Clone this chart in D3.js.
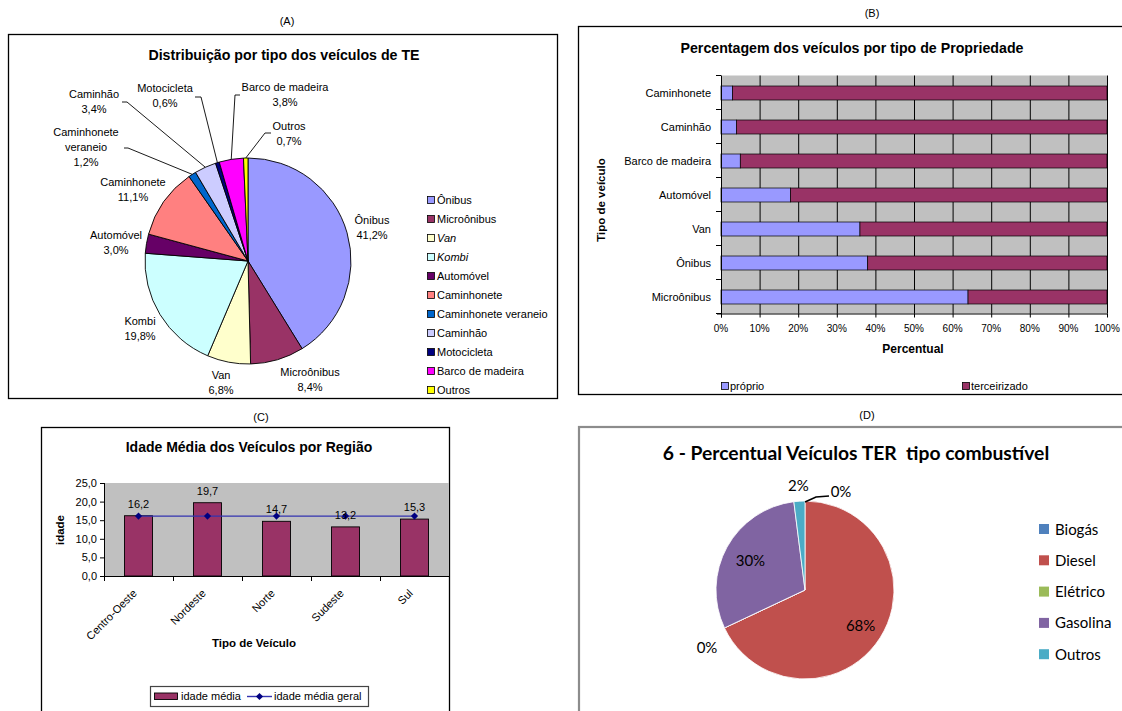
<!DOCTYPE html>
<html><head><meta charset="utf-8">
<script src="https://cdn.jsdelivr.net/npm/d3@7"></script>
<style>
html,body{margin:0;padding:0;background:#fff;}
svg{display:block;}
text{font-family:"Liberation Sans",Arial,sans-serif;fill:#000;}
.cal{font-family:Lato,"Open Sans",sans-serif;}
</style></head><body>
<svg id="chart" width="1122" height="711"></svg>
<script>
// ---------- DATA ----------
// (A) distribution by vehicle type
const vehicleTypes = ["Ônibus","Microônibus","Van","Kombi","Automóvel","Caminhonete","Caminhonete veraneio","Caminhão","Motocicleta","Barco de madeira","Outros"];
const vehicleShares = [41.2, 8.4, 6.8, 19.8, 3.0, 11.1, 1.2, 3.4, 0.6, 3.8, 0.7];
// (B) ownership
const ownershipCategories = ["Caminhonete","Caminhão","Barco de madeira","Automóvel","Van","Ônibus","Microônibus"];
const ownSeries = ["próprio","terceirizado"];
const ownPct = [3, 4, 5, 18, 36, 38, 64];
const outsourcedPct = [97, 96, 95, 82, 64, 62, 36];
// (C) average age per region
const regions = ["Centro-Oeste","Nordeste","Norte","Sudeste","Sul"];
const ageByRegion = [16.2, 19.7, 14.7, 13.2, 15.3];
const overallAge = [16.1, 16.1, 16.1, 16.1, 16.1];
const ageSeries = ["idade média","idade média geral"];
// (D) fuel type
const fuelTypes = ["Biogás","Diesel","Elétrico","Gasolina","Outros"];
const fuelShares = [0, 68, 0, 30, 2];

// ---------- STYLE / LAYOUT ----------
const colorsA = ["#9999FF","#993366","#FFFFCC","#CCFFFF","#660066","#FF8080","#0066CC","#CCCCFF","#000080","#FF00FF","#FFFF00"];
const italicLegendA = ["Van","Kombi"];
const labelPosA = { // first-line centre offsets from pie centre
  "Ônibus":[124,-41], "Microônibus":[62,111], "Van":[-27,114], "Kombi":[-108,60],
  "Automóvel":[-132,-26], "Caminhonete":[-115,-79], "Caminhonete veraneio":[-162,-129],
  "Caminhão":[-154,-167], "Motocicleta":[-83,-173], "Barco de madeira":[37,-174], "Outros":[41,-135]
};
const leaderA = { // start offset and horizontal stub
  "Caminhão":[-126,-159,5], "Caminhonete veraneio":[-124,-113,4], "Motocicleta":[-53,-164,6],
  "Barco de madeira":[-8,-166,-5], "Outros":[23,-128,-6]
};
const colorsB = ["#9999FF","#993366"];
const colorsD = ["#4F81BD","#C0504D","#9BBB59","#8064A2","#4BACC6"];

const loc = d3.formatLocale({decimal:",", thousands:".", grouping:[3], currency:["R$",""]});
const f1 = loc.format(".1f");

const svg = d3.select("#chart");

// =============== (A) ===============
(function(){
  const g = svg.append("g");
  g.append("rect").attr("x",8.5).attr("y",34.5).attr("width",549).attr("height",364)
    .attr("fill","#fff").attr("stroke","#000").attr("stroke-width",1.3);
  g.append("text").attr("x",287).attr("y",25).attr("text-anchor","middle").attr("font-size",11).text("(A)");
  g.append("text").attr("x",284).attr("y",60).attr("text-anchor","middle").attr("font-size",14.2)
    .attr("font-weight","bold").text("Distribuição por tipo dos veículos de TE");

  const cx = 248, cy = 261, r = 103;
  const data = vehicleTypes.map((n,i)=>({n, v:vehicleShares[i], c:colorsA[i]}));
  const arcs = d3.pie().sort(null).value(d=>d.v)(data);
  const arc = d3.arc().innerRadius(0).outerRadius(r);
  const pg = g.append("g").attr("transform",`translate(${cx},${cy})`);
  pg.selectAll("path").data(arcs).join("path").attr("d",arc)
    .attr("fill",d=>d.data.c).attr("stroke","#000").attr("stroke-width",0.9);

  // leader lines
  arcs.forEach(a=>{
    const L = leaderA[a.data.n]; if(!L) return;
    const mid = (a.startAngle + a.endAngle)/2;
    const ex = Math.sin(mid)*r, ey = -Math.cos(mid)*r;
    pg.append("polyline").attr("points",`${L[0]},${L[1]} ${L[0]+L[2]},${L[1]} ${ex},${ey}`)
      .attr("fill","none").attr("stroke","#000").attr("stroke-width",0.9);
  });
  // labels
  arcs.forEach(a=>{
    const p = labelPosA[a.data.n];
    let lines = a.data.n === "Caminhonete veraneio" ? ["Caminhonete","veraneio"] : [a.data.n];
    lines = lines.concat([f1(a.data.v)+"%"]);
    const t = pg.append("text").attr("text-anchor","middle").attr("font-size",11);
    lines.forEach((s,k)=>t.append("tspan").attr("x",p[0]).attr("y",p[1]+4+k*15).text(s));
  });
  // legend
  const lg = g.append("g");
  data.forEach((d,i)=>{
    const y = 200 + i*19;
    lg.append("rect").attr("x",427.5).attr("y",y-3.5).attr("width",7).attr("height",7)
      .attr("fill",d.c).attr("stroke","#000").attr("stroke-width",0.8);
    lg.append("text").attr("x",437).attr("y",y+4).attr("font-size",11)
      .attr("font-style",italicLegendA.includes(d.n)?"italic":"normal").text(d.n);
  });
})();

// =============== (B) ===============
(function(){
  const g = svg.append("g");
  g.append("rect").attr("x",578.5).attr("y",26.5).attr("width",560).attr("height",368)
    .attr("fill","#fff").attr("stroke","#000").attr("stroke-width",1.3);
  g.append("text").attr("x",872).attr("y",17).attr("text-anchor","middle").attr("font-size",11).text("(B)");
  g.append("text").attr("x",852).attr("y",53).attr("text-anchor","middle").attr("font-size",14.2)
    .attr("font-weight","bold").text("Percentagem dos veículos por tipo de Propriedade");

  const x = d3.scaleLinear().domain([0,100]).range([721,1107]);
  const y = d3.scaleBand().domain(ownershipCategories).range([75.5,313.5]);
  const bw = y.bandwidth();
  g.append("rect").attr("x",x(0)).attr("y",y.range()[0]).attr("width",x(100)-x(0))
    .attr("height",y.range()[1]-y.range()[0]).attr("fill","#C0C0C0");
  const ticks = x.ticks(10);
  g.selectAll(".grid").data(ticks.filter(t=>t>0)).join("line")
    .attr("x1",d=>x(d)+0.5).attr("x2",d=>x(d)+0.5).attr("y1",y.range()[0]).attr("y2",y.range()[1])
    .attr("stroke","#000").attr("stroke-width",1);

  const rows = ownershipCategories.map((c,i)=>({cat:c, "próprio":ownPct[i], "terceirizado":outsourcedPct[i]}));
  const stack = d3.stack().keys(ownSeries)(rows);
  stack.forEach((s,si)=>{
    g.selectAll(null).data(s).join("rect")
      .attr("x",d=>x(d[0])).attr("width",d=>x(d[1])-x(d[0]))
      .attr("y",d=>y(d.data.cat)+bw/2-6.5).attr("height",14)
      .attr("fill",colorsB[si]).attr("stroke","#000").attr("stroke-width",0.7);
  });
  // axes
  g.append("line").attr("x1",x(0)+0.5).attr("x2",x(0)+0.5).attr("y1",y.range()[0]).attr("y2",y.range()[1]+4).attr("stroke","#000");
  g.append("line").attr("x1",x(0)-4).attr("x2",x(100)+0.5).attr("y1",y.range()[1]+0.5).attr("y2",y.range()[1]+0.5).attr("stroke","#000");
  d3.range(ownershipCategories.length+1).forEach(i=>{
    const yy = y.range()[0] + i*bw;
    g.append("line").attr("x1",x(0)-5).attr("x2",x(0)).attr("y1",yy).attr("y2",yy).attr("stroke","#000");
  });
  ticks.forEach(t=>{
    g.append("line").attr("x1",x(t)+0.5).attr("x2",x(t)+0.5).attr("y1",y.range()[1]).attr("y2",y.range()[1]+4).attr("stroke","#000");
    g.append("text").attr("x",x(t)).attr("y",331.5).attr("text-anchor","middle").attr("font-size",10).text(t+"%");
  });
  ownershipCategories.forEach(c=>{
    g.append("text").attr("x",711).attr("y",y(c)+bw/2+4.5).attr("text-anchor","end").attr("font-size",11).text(c);
  });
  g.append("text").attr("x",913).attr("y",353).attr("text-anchor","middle").attr("font-size",12)
    .attr("font-weight","bold").text("Percentual");
  g.append("text").attr("transform","translate(601,200) rotate(-90)").attr("dy","0.35em")
    .attr("text-anchor","middle").attr("font-size",11.5).attr("font-weight","bold").text("Tipo de veículo");
  // legend
  const lx = [721, 962];
  ownSeries.forEach((s,i)=>{
    g.append("rect").attr("x",lx[i]+0.5).attr("y",382.5).attr("width",7).attr("height",7)
      .attr("fill",colorsB[i]).attr("stroke","#000").attr("stroke-width",0.8);
    g.append("text").attr("x",lx[i]+9).attr("y",390).attr("font-size",11).text(s);
  });
})();

// =============== (C) ===============
(function(){
  const g = svg.append("g");
  g.append("rect").attr("x",41.5).attr("y",427.5).attr("width",408).attr("height",300)
    .attr("fill","#fff").attr("stroke","#000").attr("stroke-width",1.3);
  g.append("text").attr("x",261).attr("y",421).attr("text-anchor","middle").attr("font-size",11).text("(C)");
  g.append("text").attr("x",249).attr("y",452).attr("text-anchor","middle").attr("font-size",14)
    .attr("font-weight","bold").text("Idade Média dos Veículos por Região");

  const x = d3.scaleBand().domain(regions).range([104,449]);
  const y = d3.scaleLinear().domain([0,25]).range([576,483]);
  const bw = x.bandwidth();
  g.append("rect").attr("x",104).attr("y",483).attr("width",345).attr("height",93).attr("fill","#C0C0C0");
  regions.forEach((r,i)=>{
    const cxr = x(r)+bw/2;
    g.append("rect").attr("x",cxr-14).attr("width",28).attr("y",y(ageByRegion[i]))
      .attr("height",y(0)-y(ageByRegion[i])).attr("fill","#993366").attr("stroke","#000").attr("stroke-width",0.9);
  });
  // axes
  g.append("line").attr("x1",104.5).attr("x2",104.5).attr("y1",483).attr("y2",580).attr("stroke","#000");
  g.append("line").attr("x1",100).attr("x2",449).attr("y1",576.5).attr("y2",576.5).attr("stroke","#000");
  y.ticks(5).forEach(t=>{
    g.append("line").attr("x1",100).attr("x2",104).attr("y1",y(t)+0.5).attr("y2",y(t)+0.5).attr("stroke","#000");
    g.append("text").attr("x",97).attr("y",y(t)+4).attr("text-anchor","end").attr("font-size",11).text(f1(t));
  });
  d3.range(regions.length+1).forEach(i=>{
    const xx = 104 + i*bw;
    g.append("line").attr("x1",xx+0.5).attr("x2",xx+0.5).attr("y1",576).attr("y2",581).attr("stroke","#000");
  });
  // overall line
  const line = d3.line().x((d,i)=>x(regions[i])+bw/2).y(d=>y(d));
  g.append("path").attr("d",line(overallAge)).attr("fill","none").attr("stroke","#3333B0").attr("stroke-width",1.4);
  const diamond = "M0,-3.6L3.6,0L0,3.6L-3.6,0Z";
  overallAge.forEach((v,i)=>{
    g.append("path").attr("d",diamond).attr("transform",`translate(${x(regions[i])+bw/2},${y(v)})`).attr("fill","#000080");
  });
  // value labels
  regions.forEach((r,i)=>{
    g.append("text").attr("x",x(r)+bw/2).attr("y",y(ageByRegion[i])-8).attr("text-anchor","middle")
      .attr("font-size",11).text(f1(ageByRegion[i]));
  });
  // category labels
  regions.forEach(r=>{
    g.append("text").attr("transform",`translate(${x(r)+bw/2-1},594) rotate(-45)`)
      .attr("text-anchor","end").attr("font-size",11).text(r);
  });
  g.append("text").attr("x",254).attr("y",647).attr("text-anchor","middle").attr("font-size",11.5)
    .attr("font-weight","bold").text("Tipo de Veículo");
  g.append("text").attr("transform","translate(60,530) rotate(-90)").attr("dy","0.35em")
    .attr("text-anchor","middle").attr("font-size",11.5).attr("font-weight","bold").text("idade");
  // legend
  g.append("rect").attr("x",150.5).attr("y",686.5).attr("width",218).attr("height",20)
    .attr("fill","#fff").attr("stroke","#444").attr("stroke-width",1.2);
  g.append("rect").attr("x",154.5).attr("y",693).attr("width",23).attr("height",6.5)
    .attr("fill","#993366").attr("stroke","#000").attr("stroke-width",0.9);
  g.append("text").attr("x",181).attr("y",700).attr("font-size",11).text(ageSeries[0]);
  g.append("line").attr("x1",247).attr("x2",272).attr("y1",696.5).attr("y2",696.5).attr("stroke","#3333B0").attr("stroke-width",1.4);
  g.append("path").attr("d",diamond).attr("transform","translate(259.5,696.5)").attr("fill","#000080");
  g.append("text").attr("x",274).attr("y",700).attr("font-size",11).text(ageSeries[1]);
})();

// =============== (D) ===============
(function(){
  const g = svg.append("g");
  g.append("rect").attr("x",579).attr("y",427).attr("width",560).attr("height",300)
    .attr("fill","#fff").attr("stroke","#8C8C8C").attr("stroke-width",2.2);
  g.append("text").attr("x",867).attr("y",419).attr("text-anchor","middle").attr("font-size",11).text("(D)");
  g.append("text").attr("class","cal").attr("x",856).attr("y",459.5).attr("text-anchor","middle")
    .attr("font-size",19.3).attr("font-weight","bold").style("white-space","pre")
    .text("6 - Percentual Veículos TER  tipo combustível");

  const cx = 805, cy = 590, r = 89;
  const data = fuelTypes.map((n,i)=>({n, v:fuelShares[i], c:colorsD[i]}));
  const arcs = d3.pie().sort(null).value(d=>d.v)(data);
  const arc = d3.arc().innerRadius(0).outerRadius(r);
  const pg = g.append("g").attr("transform",`translate(${cx},${cy})`);
  pg.selectAll("path").data(arcs).join("path").attr("d",arc)
    .attr("fill",d=>d.data.c).attr("stroke","#fff").attr("stroke-width",0.8);

  const radial = {"Diesel":0.74, "Gasolina":0.70, "Outros":1.18};
  const fixed = {"Biogás":[36,-99], "Elétrico":[-98,57]};
  arcs.forEach(a=>{
    let px, py;
    if (fixed[a.data.n]) { [px,py] = fixed[a.data.n]; }
    else {
      const mid = (a.startAngle+a.endAngle)/2, rr = r*radial[a.data.n];
      px = Math.sin(mid)*rr; py = -Math.cos(mid)*rr;
    }
    pg.append("text").attr("class","cal").attr("x",px).attr("y",py+5.5).attr("text-anchor","middle")
      .attr("font-size",15).text(d3.format(".0f")(a.data.v)+"%");
  });
  // leader for Biogás
  const b = arcs[0];
  const bx = Math.sin(b.startAngle)*r, by = -Math.cos(b.startAngle)*r;
  pg.append("polyline").attr("points",`${bx},${by+1} ${bx+11},${by-4} ${bx+24},${by-5}`)
    .attr("fill","none").attr("stroke","#000").attr("stroke-width",1.6);

  data.forEach((d,i)=>{
    const y = 529 + i*31.3;
    g.append("rect").attr("x",1039).attr("y",y-5).attr("width",10).attr("height",10).attr("fill",d.c);
    g.append("text").attr("class","cal").attr("x",1055).attr("y",y+5.5).attr("font-size",15).text(d.n);
  });
})();
</script>
</body></html>
